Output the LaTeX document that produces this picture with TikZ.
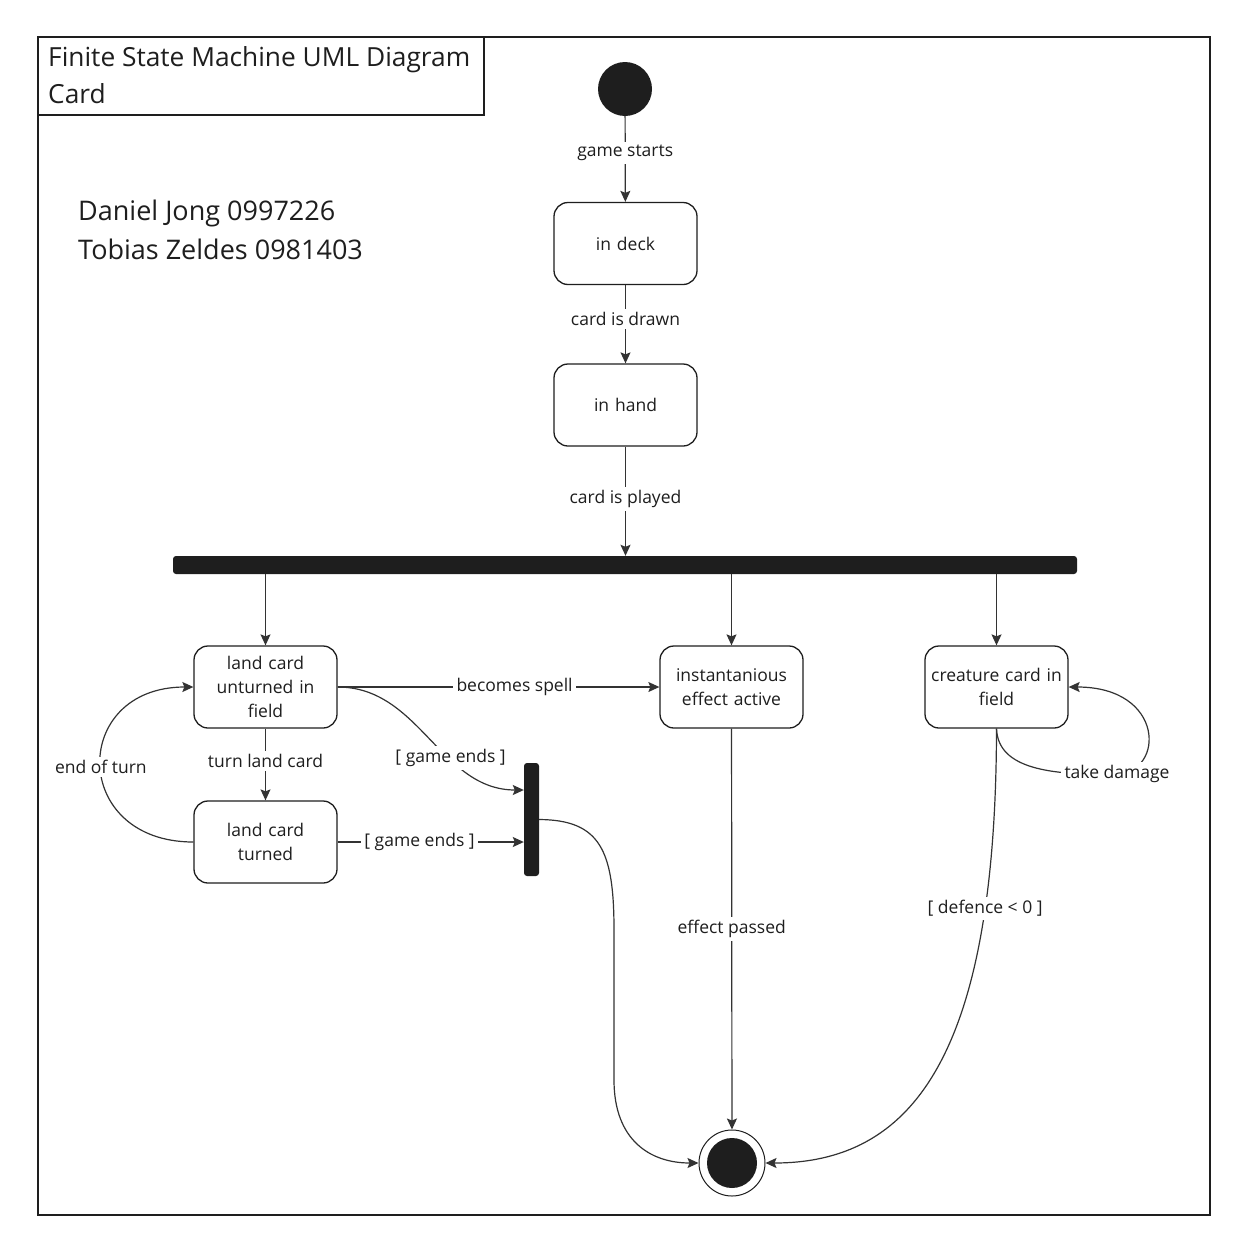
\documentclass[tikz,border=0pt]{standalone}
\usepackage{fontspec}
\setmainfont{Open Sans}
\usetikzlibrary{arrows.meta}
\definecolor{ink}{HTML}{1E1E1E}
\definecolor{linec}{HTML}{333333}
\begin{document}
\begin{tikzpicture}[x=1pt,y=-1pt,
  state/.style={draw=ink, line width=1.3pt, rounded corners=14pt, minimum width=143pt, minimum height=82pt, align=center, text width=135pt, font=\fontsize{17.5}{24}\selectfont, text=ink},
  lbl/.style={fill=white, inner sep=3.5pt, font=\fontsize{17.5}{22}\selectfont, text=ink},
  arr/.style={draw=linec, line width=1.2pt, -{Stealth[length=11pt,width=10pt,inset=2pt]}},
  barnode/.style={fill=ink, draw=none, rounded corners=3pt, inner sep=0pt}
]
\useasboundingbox (0,0) rectangle (1246,1253);
\fill[white] (0,0) rectangle (1246,1253);
% frame
\draw[line width=2pt, draw=ink] (38,37) rectangle (1210,1215);
\draw[line width=1.5pt, draw=ink] (38,37) rectangle (484,115);
\node[anchor=west, align=left, inner sep=0pt, text=ink, font=\fontsize{26.3}{37}\selectfont] (title) at (48,75) {Finite State Machine UML Diagram\\Card};
\node[anchor=west, align=left, inner sep=0pt, text=ink, font=\fontsize{27}{39}\selectfont] (names) at (78,229.5) {Daniel Jong 0997226\\Tobias Zeldes 0981403};

% nodes
\node[circle, fill=ink, minimum size=54pt, inner sep=0pt] (init) at (625,89) {};
\node[state] (deck) at (625.5,243.5) {in deck};
\node[state] (hand) at (625.5,405) {in hand};
\node[barnode, minimum width=904pt, minimum height=18pt] (fork) at (625,565) {};
\node[state] (lcu) at (265.5,687) {land card\\unturned in\\field};
\node[state] (lct) at (265.5,842) {land card\\turned};
\node[state] (inst) at (731.5,687) {instantanious\\effect active};
\node[state] (crea) at (996.5,687) {creature card in\\field};
\node[barnode, minimum width=15pt, minimum height=113pt] (join) at (531.5,819.5) {};
\node[circle, draw=ink, line width=1pt, fill=white, minimum size=66pt, inner sep=0pt] (final) at (732,1163) {};
\node[circle, fill=ink, minimum size=50pt, inner sep=0pt] (finalin) at (final.center) {};

% edges
\draw[arr] (init) -- node[lbl, pos=0.43] {game starts} (deck);
\draw[arr] (deck) -- node[lbl, pos=0.43] {card is drawn} (hand);
\draw[arr] (hand) -- node[lbl, pos=0.48] {card is played} (hand.south |- fork.north);
\draw[arr] (lcu |- fork.south) -- (lcu.north);
\draw[arr] (inst |- fork.south) -- (inst.north);
\draw[arr] (crea |- fork.south) -- (crea.north);
\draw[arr] (lcu.east) -- node[lbl, pos=0.55] {becomes spell} (inst.west);
\draw[arr] (lcu) -- node[lbl, pos=0.45] {turn land card} (lct);
\draw[arr] (lct.east) -- node[lbl, pos=0.44] {[ game ends ]} ([yshift=-22.5pt]join.west);
\draw[arr] (lcu.east) .. controls (420,687) and (440,790) .. node[lbl, pos=0.63] {[ game ends ]} ([yshift=29.5pt]join.west);
\draw[arr] (lct.west) .. controls (70,842) and (70,687) .. node[lbl, pos=0.49] {end of turn} (lcu.west);
\draw[arr] (join.east) .. controls (600,820) and (614,850) .. (614,930) -- (614,1080) .. controls (614,1140) and (650,1163) .. (final.west);
\draw[arr] (inst) -- node[lbl, pos=0.5] {effect passed} (final);
\draw[arr] (crea.south) .. controls (996,1060) and (910,1163) .. node[lbl, pos=0.21] {[ defence < 0 ]} (final.east);
\draw[arr] (crea.south) .. controls (998,765) and (1040,776) .. (1117,774) node[lbl] {take damage} .. controls (1165,772) and (1165,687) .. (crea.east);
\end{tikzpicture}
\end{document}
